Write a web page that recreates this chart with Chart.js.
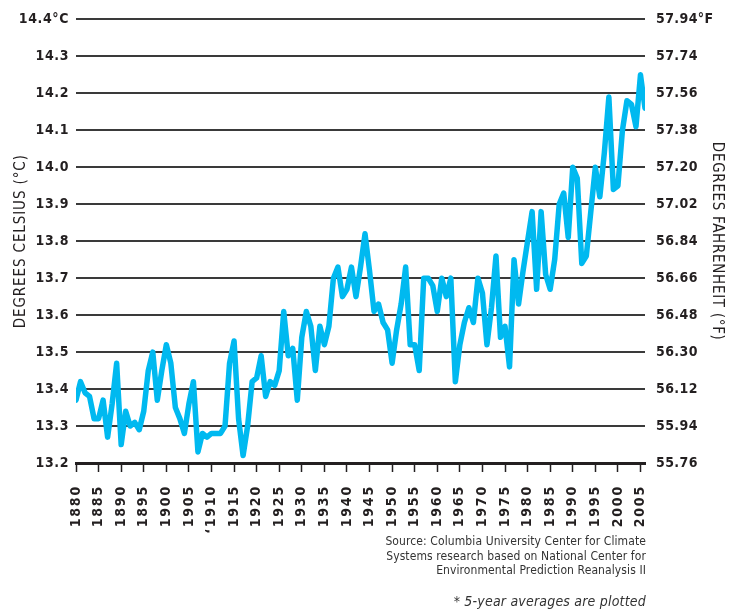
<!DOCTYPE html>
<html><head><meta charset="utf-8">
<script src="https://cdn.jsdelivr.net/npm/chart.js@4/dist/chart.umd.min.js"></script>
<style>
html,body{margin:0;padding:0;background:#fff;}
#wrap{position:relative;width:738px;height:614px;}
canvas{position:absolute;left:0;top:0;}
.src{position:absolute;right:92px;top:534px;font:12px "DejaVu Sans Condensed",sans-serif;color:#333;text-align:right;line-height:14.5px;letter-spacing:0.1px;}
.note{position:absolute;right:92px;top:593px;font:italic 14px "DejaVu Sans Condensed",sans-serif;color:#333;letter-spacing:0.2px;}
</style></head>
<body><div id="wrap"><canvas id="c" width="738" height="614"></canvas>
<div class="src">Source: Columbia University Center for Climate<br>Systems research based on National Center for<br>Environmental Prediction Reanalysis II</div>
<div class="note">* 5-year averages are plotted</div></div>
<script>
const years = [1880,1881,1882,1883,1884,1885,1886,1887,1888,1889,1890,1891,1892,1893,1894,1895,1896,1897,1898,1899,
1900,1901,1902,1903,1904,1905,1906,1907,1908,1909,1910,1911,1912,1913,1914,1915,1916,1917,1918,1919,
1920,1921,1922,1923,1924,1925,1926,1927,1928,1929,1930,1931,1932,1933,1934,1935,1936,1937,1938,1939,
1940,1941,1942,1943,1944,1945,1946,1947,1948,1949,1950,1951,1952,1953,1954,1955,1956,1957,1958,1959,
1960,1961,1962,1963,1964,1965,1966,1967,1968,1969,1970,1971,1972,1973,1974,1975,1976,1977,1978,1979,
1980,1981,1982,1983,1984,1985,1986,1987,1988,1989,1990,1991,1992,1993,1994,1995,1996,1997,1998,1999,
2000,2001,2002,2003,2004,2005,2006];
const tempC = [13.37,13.42,13.39,13.38,13.32,13.32,13.37,13.27,13.36,13.47,13.25,13.34,13.30,13.31,13.29,13.34,13.45,13.50,13.37,13.45,
13.52,13.47,13.35,13.32,13.28,13.36,13.42,13.23,13.28,13.27,13.28,13.28,13.28,13.30,13.47,13.53,13.32,13.22,13.30,13.42,
13.43,13.49,13.38,13.42,13.41,13.45,13.61,13.49,13.51,13.37,13.54,13.61,13.57,13.45,13.57,13.52,13.57,13.70,13.73,13.65,
13.67,13.73,13.65,13.73,13.82,13.72,13.61,13.63,13.58,13.56,13.47,13.56,13.63,13.73,13.52,13.52,13.45,13.70,13.70,13.68,
13.61,13.70,13.65,13.70,13.42,13.52,13.58,13.62,13.58,13.70,13.66,13.52,13.62,13.76,13.54,13.57,13.46,13.75,13.63,13.72,
13.80,13.88,13.67,13.88,13.71,13.67,13.75,13.90,13.93,13.81,14.00,13.97,13.74,13.76,13.88,14.00,13.92,14.04,14.19,13.94,
13.95,14.10,14.18,14.17,14.11,14.25,14.16];
const xTickYears = [1880,1885,1890,1895,1900,1905,1910,1915,1920,1925,1930,1935,1940,1945,1950,1955,1960,1965,1970,1975,1980,1985,1990,1995,2000,2005];
const xTickLabels = ['1880','1885','1890','1895','1900','1905',"\u20181910",'1915','1920','1925','1930','1935','1940','1945','1950','1955','1960','1965','1970','1975','1980','1985','1990','1995','2000','2005'];
const cTickValues = [13.2,13.3,13.4,13.5,13.6,13.7,13.8,13.9,14.0,14.1,14.2,14.3,14.4];
const cTickLabels = ['13.2','13.3','13.4','13.5','13.6','13.7','13.8','13.9','14.0','14.1','14.2','14.3','14.4\u00b0C'];
const fTickLabels = ['55.76','55.94','56.12','56.30','56.48','56.66','56.84','57.02','57.20','57.38','57.56','57.74','57.94\u00b0F'];

const FONT = '"DejaVu Sans Condensed", "Liberation Sans Narrow", sans-serif';
const TXT = '#231f20';
const setY = s => { s.ticks = cTickValues.map(v => ({value: v})); };

function spaced(scale, method, sp) {
  if (scale['_w_' + method]) return;
  const orig = scale[method];
  scale[method] = function(...a) {
    const ctx = this.ctx; const prev = ctx.letterSpacing;
    ctx.letterSpacing = sp; orig.apply(this, a); ctx.letterSpacing = prev;
  };
  scale['_w_' + method] = true;
}
const spacingPlugin = {
  id: 'spacing',
  beforeDraw(chart) {
    spaced(chart.scales.x, 'drawLabels', '1.8px');
    spaced(chart.scales.y, 'drawLabels', '0.6px');
    spaced(chart.scales.y2, 'drawLabels', '0.4px');
    spaced(chart.scales.y, 'drawTitle', '0.9px');
    spaced(chart.scales.y2, 'drawTitle', '0.7px');
  }
};

new Chart(document.getElementById('c'), {
  type: 'line',
  data: { datasets: [{
    data: years.map((y, i) => ({x: y, y: tempC[i]})),
    borderColor: '#00b9f0', borderWidth: 5.5, pointRadius: 0, tension: 0,
    borderJoinStyle: 'round', borderCapStyle: 'round', yAxisID: 'y'
  }]},
  plugins: [spacingPlugin],
  options: {
    responsive: false, animation: false, devicePixelRatio: 1,
    layout: { padding: { top: 15, left: 0, right: 0, bottom: 0 } },
    plugins: { legend: { display: false }, tooltip: { enabled: false } },
    scales: {
      x: {
        type: 'linear', min: 1880, max: 2006,
        afterBuildTicks: s => { s.ticks = xTickYears.map(v => ({value: v})); },
        afterFit: s => { s.height = 151; },
        grid: { drawOnChartArea: false, drawTicks: true, tickLength: 9, tickColor: '#231f20', tickWidth: 1.5 },
        border: { display: true, color: '#231f20', width: 3 },
        ticks: { autoSkip: false, minRotation: 90, maxRotation: 90, padding: 13,
          color: TXT, font: { family: FONT, size: 14, weight: 'bold' },
          callback: (v, i) => xTickLabels[i] }
      },
      y: {
        position: 'left', min: 13.2, max: 14.4,
        afterBuildTicks: setY,
        afterFit: s => { s.width = 76; },
        grid: { color: '#3a3a3a', lineWidth: 2, drawTicks: false },
        border: { display: false },
        title: { display: true, text: 'DEGREES CELSIUS (\u00b0C)', color: TXT,
          font: { family: FONT, size: 15 }, padding: { top: 12, bottom: 0 } },
        ticks: { padding: 7, color: TXT, font: { family: FONT, size: 14, weight: 'bold' },
          callback: (v, i) => cTickLabels[i] }
      },
      y2: {
        position: 'right', min: 13.2, max: 14.4,
        afterBuildTicks: setY,
        afterFit: s => { s.width = 93; },
        grid: { drawOnChartArea: false, drawTicks: false },
        border: { display: false },
        title: { display: true, text: 'DEGREES FAHRENHEIT (\u00b0F)', color: TXT,
          font: { family: FONT, size: 15 }, padding: { top: 12, bottom: 0 } },
        ticks: { padding: 11, color: TXT, font: { family: FONT, size: 14, weight: 'bold' },
          callback: (v, i) => fTickLabels[i] }
      }
    }
  }
});
</script></body></html>
